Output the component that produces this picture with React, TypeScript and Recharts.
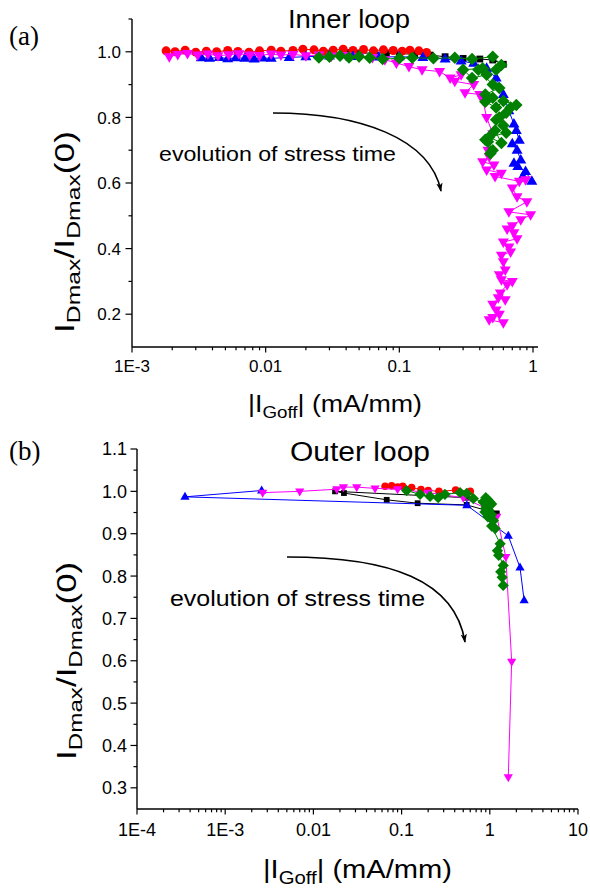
import { ScatterChart, Scatter, XAxis, YAxis } from "recharts";

type Pt = [number, number];

// ---- (a) inner loop: [|IGoff| mA/mm, IDmax/IDmax(0)] ----
const innerBlack: Pt[] = [
  [0.03, 0.996], [0.04, 0.998], [0.05, 0.995], [0.065, 0.997], [0.08, 0.996], [0.1, 0.994],
  [0.13, 0.993], [0.17, 0.99], [0.22, 0.985], [0.3, 0.98], [0.4, 0.978], [0.5, 0.975], [0.6, 0.962],
];
const innerRed: Pt[] = [
  [0.0018, 1.003], [0.0021, 1.0], [0.0025, 1.005], [0.003, 0.999], [0.0036, 1.002], [0.0043, 1.0],
  [0.0052, 1.004], [0.0062, 1.001], [0.0075, 0.999], [0.009, 1.003], [0.011, 1.005], [0.013, 1.002],
  [0.016, 1.004], [0.019, 1.008], [0.023, 1.006], [0.027, 1.002], [0.032, 1.005], [0.038, 1.008],
  [0.045, 1.004], [0.054, 1.007], [0.064, 1.003], [0.076, 1.006], [0.09, 1.004], [0.105, 1.002],
  [0.12, 1.005], [0.14, 1.003], [0.16, 0.998],
];
const innerBlue: Pt[] = [
  [0.0033, 0.982], [0.0038, 0.98], [0.0045, 0.983], [0.0052, 0.979], [0.006, 0.982], [0.007, 0.98],
  [0.0082, 0.978], [0.0095, 0.981], [0.011, 0.98], [0.015, 0.983], [0.02, 0.985], [0.03, 0.987],
  [0.045, 0.986], [0.07, 0.984], [0.1, 0.985], [0.15, 0.983], [0.22, 0.978], [0.29, 0.972],
  [0.36, 0.965], [0.45, 0.95], [0.53, 0.92], [0.6, 0.87], [0.66, 0.82], [0.72, 0.78], [0.75, 0.76],
  [0.79, 0.73], [0.7, 0.72], [0.76, 0.7], [0.81, 0.67], [0.72, 0.66], [0.77, 0.65], [0.88, 0.635],
  [0.98, 0.605], [0.84, 0.62],
];
const innerMagenta: Pt[] = [
  [0.0019, 0.985], [0.0022, 0.992], [0.0026, 0.995], [0.0031, 0.99], [0.0037, 0.993], [0.0044, 0.988],
  [0.0053, 0.991], [0.0063, 0.994], [0.0076, 0.99], [0.009, 0.989], [0.011, 0.993], [0.013, 0.99],
  [0.016, 0.992], [0.02, 0.988], [0.025, 0.99], [0.031, 0.987], [0.04, 0.989], [0.05, 0.985],
  [0.063, 0.983], [0.078, 0.976], [0.095, 0.966], [0.118, 0.955], [0.148, 0.945], [0.2, 0.94],
  [0.24, 0.92], [0.29, 0.93], [0.26, 0.91], [0.36, 0.9], [0.31, 0.875], [0.4, 0.87], [0.42, 0.854],
  [0.45, 0.8], [0.5, 0.75], [0.46, 0.7], [0.47, 0.68], [0.42, 0.665], [0.51, 0.655], [0.45, 0.64],
  [0.58, 0.63], [0.52, 0.62], [0.79, 0.605], [0.88, 0.61], [0.7, 0.585], [0.76, 0.558], [0.9, 0.543],
  [0.66, 0.512], [0.96, 0.503], [0.81, 0.488], [0.7, 0.47], [0.64, 0.46], [0.72, 0.448],
  [0.76, 0.43], [0.6, 0.42], [0.66, 0.405], [0.68, 0.39], [0.58, 0.38], [0.6, 0.36], [0.62, 0.335],
  [0.56, 0.32], [0.58, 0.305], [0.7, 0.3], [0.64, 0.29], [0.57, 0.265], [0.62, 0.244], [0.55, 0.25],
  [0.5, 0.23], [0.53, 0.213], [0.56, 0.2], [0.5, 0.19], [0.47, 0.183], [0.6, 0.174],
];
const innerGreen: Pt[] = [
  [0.025, 0.983], [0.03, 0.985], [0.036, 0.988], [0.042, 0.983], [0.05, 0.986], [0.06, 0.982],
  [0.075, 0.978], [0.1, 0.98], [0.125, 0.982], [0.18, 0.98], [0.26, 0.982], [0.35, 0.978],
  [0.5, 0.985], [0.58, 0.96], [0.53, 0.945], [0.42, 0.95], [0.3, 0.945], [0.35, 0.92], [0.45, 0.93],
  [0.39, 0.945], [0.5, 0.9], [0.56, 0.89], [0.44, 0.87], [0.5, 0.86], [0.44, 0.848], [0.53, 0.83],
  [0.6, 0.85], [0.75, 0.838], [0.68, 0.83], [0.63, 0.814], [0.53, 0.793], [0.56, 0.8], [0.6, 0.775],
  [0.63, 0.753], [0.47, 0.74], [0.58, 0.722], [0.52, 0.76], [0.46, 0.726], [0.5, 0.7], [0.44, 0.732],
  [0.48, 0.69],
];

// ---- (b) outer loop ----
const outerBlack: Pt[] = [
  [0.55, 0.985], [0.0176, 1.0], [0.0222, 0.996], [0.0678, 0.98], [0.152, 0.972], [0.547, 0.968], [1.2, 0.948],
];
const outerRed: Pt[] = [
  [0.065, 1.012], [0.077, 1.013], [0.09, 1.01], [0.103, 1.012], [0.13, 1.009], [0.166, 1.004],
  [0.2, 1.002], [0.265, 1.0], [0.41, 1.003], [0.6, 1.0],
];
const outerBlue: Pt[] = [
  [0.00259, 1.002], [0.00035, 0.987], [0.55, 0.967], [1.62, 0.895], [2.2, 0.82], [2.45, 0.743],
];
const outerMagenta: Pt[] = [
  [0.00266, 0.997], [0.007, 1.0], [0.0184, 1.005], [0.0219, 1.01], [0.031, 1.01], [0.05, 1.007],
  [0.09, 1.005], [0.2, 0.997], [0.5, 0.985], [0.9, 0.96], [1.2, 0.94], [1.52, 0.845], [1.77, 0.598], [1.62, 0.325],
];
const outerGreen: Pt[] = [
  [0.114, 1.002], [0.162, 0.993], [0.21, 0.988], [0.26, 0.985], [0.31, 0.993], [0.46, 0.997],
  [0.547, 0.995], [0.65, 0.983], [0.84, 0.975], [0.95, 0.98], [1.0, 0.975], [0.9, 0.985], [1.05, 0.97],
  [0.9, 0.96], [0.92, 0.965], [0.98, 0.955], [0.88, 0.951], [1.05, 0.945], [0.95, 0.94], [1.1, 0.931],
  [1.15, 0.912], [1.05, 0.918], [1.31, 0.876], [1.26, 0.849], [1.22, 0.86], [1.42, 0.825],
  [1.33, 0.81], [1.38, 0.797], [1.42, 0.778],
];

// axis ticks
const xMajorA = [0.001, 0.01, 0.1, 1];
const xLabelsA = ["1E-3", "0.01", "0.1", "1"];
const xMajorB = [0.0001, 0.001, 0.01, 0.1, 1, 10];
const xLabelsB = ["1E-4", "1E-3", "0.01", "0.1", "1", "10"];
const yMajorA = [0.2, 0.4, 0.6, 0.8, 1.0];
const yMinorA = [0.3, 0.5, 0.7, 0.9, 1.1];
const yMajorB = [0.3, 0.4, 0.5, 0.6, 0.7, 0.8, 0.9, 1.0, 1.1];
const yMinorB = [0.35, 0.45, 0.55, 0.65, 0.75, 0.85, 0.95, 1.05];

// 2..9 within every decade of the major ticks
const minorDecades = (majors: number[], max: number) => {
  const out: number[] = [];
  for (const m of majors) for (let k = 2; k <= 9; k++) if (m * k <= max) out.push(+(m * k).toPrecision(3));
  return out;
};

const FONT = "'Liberation Sans', Arial, sans-serif";
const SERIF = "'Liberation Serif', 'Times New Roman', serif";
const COLORS = { black: "#000000", red: "#ff0000", blue: "#0000ff", magenta: "#ff00ff", green: "#008000" };

type Kind = "square" | "circle" | "up" | "down" | "diamond";

function Marker({ cx, cy, kind, color, r }: { cx?: number; cy?: number; kind: Kind; color: string; r: number }) {
  if (cx == null || cy == null) return null;
  if (kind === "square") return <rect x={cx - r * 0.85} y={cy - r * 0.85} width={r * 1.7} height={r * 1.7} fill={color} />;
  if (kind === "circle") return <circle cx={cx} cy={cy} r={r} fill={color} />;
  if (kind === "diamond")
    return <polygon points={`${cx},${cy - r * 1.25} ${cx + r * 1.25},${cy} ${cx},${cy + r * 1.25} ${cx - r * 1.25},${cy}`} fill={color} />;
  const s = kind === "up" ? 1 : -1;
  return (
    <polygon
      points={`${cx},${cy - s * r * 1.2} ${cx + r * 1.1},${cy + s * r * 0.7} ${cx - r * 1.1},${cy + s * r * 0.7}`}
      fill={color}
    />
  );
}

const XTick = (p: any) => {
  const { x, y, payload, majors, labels, fs, dl } = p;
  const i = majors.findIndex((m: number) => Math.abs(m - payload.value) / m < 1e-6);
  return (
    <g>
      <line x1={x} x2={x} y1={y} y2={y + (i >= 0 ? 5.5 : 3.3)} stroke="#000" strokeWidth={1.2} />
      {i >= 0 && (
        <text x={x} y={y + dl} textAnchor="middle" fontSize={fs} fontFamily={FONT} fill="#000">
          {labels[i]}
        </text>
      )}
    </g>
  );
};

const YTick = (p: any) => {
  const { x, y, payload, majors, fs, gap } = p;
  const major = majors.some((m: number) => Math.abs(m - payload.value) < 1e-6);
  return (
    <g>
      <line x1={x} x2={x - (major ? 6.5 : 3.5)} y1={y} y2={y} stroke="#000" strokeWidth={1.2} />
      {major && (
        <text x={x - gap} y={y} dy="0.36em" textAnchor="end" fontSize={fs} fontFamily={FONT} fill="#000">
          {payload.value.toFixed(1)}
        </text>
      )}
    </g>
  );
};

const Arrow = ({ d, id }: { d: string; id: string }) => (
  <g>
    <defs>
      <marker id={id} viewBox="0 0 10 10" refX="9" refY="5" markerWidth="9" markerHeight="9" orient="auto" markerUnits="userSpaceOnUse">
        <path d="M0,1.5 L10,5 L0,8.5 L2.5,5 Z" fill="#000" />
      </marker>
    </defs>
    <path d={d} fill="none" stroke="#000" strokeWidth={1.6} markerEnd={`url(#${id})`} />
  </g>
);

const YLabel = ({ x, y, len, fs }: { x: number; y: number; len: number; fs: number }) => (
  <text
    transform={`translate(${x},${y}) rotate(-90)`}
    textAnchor="middle"
    fontSize={fs}
    fontFamily={FONT}
    textLength={len}
    lengthAdjust="spacingAndGlyphs"
    fill="#000"
  >
    I<tspan fontSize={fs * 0.7} dy={fs * 0.22}>Dmax</tspan>
    <tspan dy={-fs * 0.22}>/I</tspan>
    <tspan fontSize={fs * 0.7} dy={fs * 0.22}>Dmax</tspan>
    <tspan dy={-fs * 0.22}>(0)</tspan>
  </text>
);

const XLabel = ({ x, y, len, fs }: { x: number; y: number; len: number; fs: number }) => (
  <text x={x} y={y} fontSize={fs} fontFamily={FONT} textLength={len} lengthAdjust="spacingAndGlyphs" fill="#000">
    |I<tspan fontSize={fs * 0.7} dy={fs * 0.25}>Goff</tspan>
    <tspan dy={-fs * 0.25}>| (mA/mm)</tspan>
  </text>
);

const rows = (pts: Pt[]) => pts.map(([x, y]) => ({ x, y }));

type Series = { name: string; data: Pt[]; kind: Kind; color: string; r: number };

const seriesA: Series[] = [
  { name: "black", data: innerBlack, kind: "square", color: COLORS.black, r: 4 },
  { name: "red", data: innerRed, kind: "circle", color: COLORS.red, r: 4.5 },
  { name: "blue", data: innerBlue, kind: "up", color: COLORS.blue, r: 5 },
  { name: "magenta", data: innerMagenta, kind: "down", color: COLORS.magenta, r: 5 },
  { name: "green", data: innerGreen, kind: "diamond", color: COLORS.green, r: 5 },
];
const seriesB: Series[] = [
  { name: "black", data: outerBlack, kind: "square", color: COLORS.black, r: 3.4 },
  { name: "red", data: outerRed, kind: "circle", color: COLORS.red, r: 3.8 },
  { name: "blue", data: outerBlue, kind: "up", color: COLORS.blue, r: 4.2 },
  { name: "magenta", data: outerMagenta, kind: "down", color: COLORS.magenta, r: 4.2 },
  { name: "green", data: outerGreen, kind: "diamond", color: COLORS.green, r: 4.5 },
];

const renderSeries = (list: Series[]) =>
  list.map((s) => (
    <Scatter
      key={s.name}
      data={rows(s.data)}
      fill={s.color}
      line={{ stroke: s.color, strokeWidth: 1 }}
      shape={(p: any) => <Marker cx={p.cx} cy={p.cy} kind={s.kind} color={s.color} r={s.r} />}
      isAnimationActive={false}
    />
  ));

export default function App() {
  const xTicksA = [...xMajorA, ...minorDecades(xMajorA.slice(0, 3), 1.09)].sort((a, b) => a - b);
  const xTicksB = [...xMajorB, ...minorDecades(xMajorB.slice(0, 5), 10)].sort((a, b) => a - b);
  const yTicksA = [...yMajorA, ...yMinorA].sort((a, b) => a - b);
  const yTicksB = [...yMajorB, ...yMinorB].sort((a, b) => a - b);

  return (
    <div style={{ position: "absolute", left: 0, top: 0, width: 590, height: 892, background: "#fff", fontFamily: FONT }}>
      {/* (a) inner loop */}
      <ScatterChart width={590} height={430} margin={{ top: 19, right: 52, bottom: 43, left: 82 }}>
        <XAxis
          dataKey="x"
          type="number"
          scale="log"
          domain={[0.001, 1.09]}
          allowDataOverflow
          ticks={xTicksA}
          interval={0}
          height={40}
          tickSize={0}
          tickMargin={0}
          axisLine={{ stroke: "#000", strokeWidth: 1.4 }}
          tick={(p: any) => <XTick {...p} majors={xMajorA} labels={xLabelsA} fs={17} dl={25} />}
        />
        <YAxis
          dataKey="y"
          type="number"
          domain={[0.1, 1.1]}
          allowDataOverflow
          ticks={yTicksA}
          interval={0}
          width={50}
          tickSize={0}
          tickMargin={0}
          axisLine={{ stroke: "#000", strokeWidth: 1.4 }}
          tick={(p: any) => <YTick {...p} majors={yMajorA} fs={17} gap={11} />}
        />
        {renderSeries(seriesA)}
        <text x={9} y={45} fontSize={27} fontFamily={SERIF} fill="#000">(a)</text>
        <text x={288} y={28} fontSize={25} fontFamily={FONT} textLength={122} lengthAdjust="spacingAndGlyphs" fill="#000">
          Inner loop
        </text>
        <text x={159} y={161} fontSize={21} fontFamily={FONT} textLength={237} lengthAdjust="spacingAndGlyphs" fill="#000">
          evolution of stress time
        </text>
        <Arrow id="arrA" d="M273,113 C360,113 430,138 441,191" />
        <YLabel x={74} y={232} len={202} fs={27} />
        <XLabel x={248} y={412} len={174} fs={23} />
      </ScatterChart>

      {/* (b) outer loop */}
      <ScatterChart width={590} height={462} margin={{ top: 19, right: 12, bottom: 43, left: 87 }}>
        <XAxis
          dataKey="x"
          type="number"
          scale="log"
          domain={[0.0001, 10]}
          allowDataOverflow
          ticks={xTicksB}
          interval={0}
          height={40}
          tickSize={0}
          tickMargin={0}
          axisLine={{ stroke: "#000", strokeWidth: 1.4 }}
          tick={(p: any) => <XTick {...p} majors={xMajorB} labels={xLabelsB} fs={18} dl={27} />}
        />
        <YAxis
          dataKey="y"
          type="number"
          domain={[0.25, 1.1]}
          allowDataOverflow
          ticks={yTicksB}
          interval={0}
          width={50}
          tickSize={0}
          tickMargin={0}
          axisLine={{ stroke: "#000", strokeWidth: 1.4 }}
          tick={(p: any) => <YTick {...p} majors={yMajorB} fs={18} gap={10} />}
        />
        {renderSeries(seriesB)}
        <text x={9} y={30} fontSize={27} fontFamily={SERIF} fill="#000">(b)</text>
        <text x={290} y={31} fontSize={27} fontFamily={FONT} textLength={140} lengthAdjust="spacingAndGlyphs" fill="#000">
          Outer loop
        </text>
        <text x={170} y={176} fontSize={22} fontFamily={FONT} textLength={255} lengthAdjust="spacingAndGlyphs" fill="#000">
          evolution of stress time
        </text>
        <Arrow id="arrB" d="M287,127 C390,127 455,150 465,212" />
        <YLabel x={76} y={231} len={198} fs={27} />
        <XLabel x={263} y={448} len={189} fs={25} />
      </ScatterChart>
    </div>
  );
}
